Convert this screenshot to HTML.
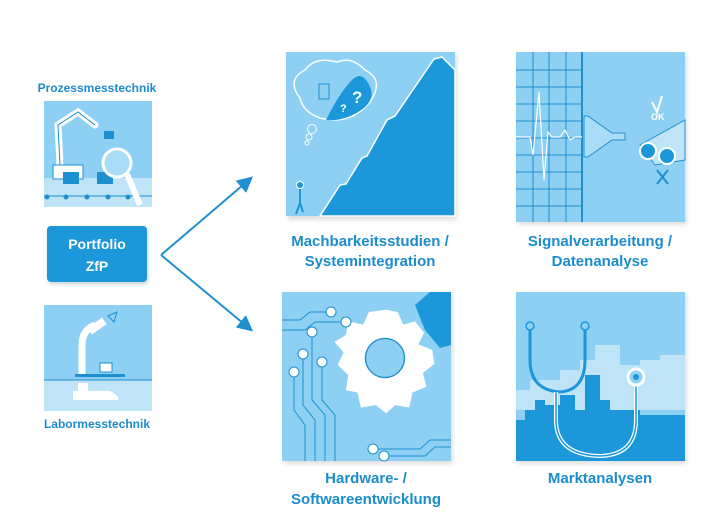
<!DOCTYPE html>
<html><head><meta charset="utf-8"><style>
html,body{margin:0;padding:0;background:#fff;width:713px;height:518px;overflow:hidden}
svg{display:block}
text{font-family:"Liberation Sans",Arial,sans-serif;font-weight:bold;fill:#1b8ccc}
</style></head><body>
<svg width="713" height="518" viewBox="0 0 713 518" xmlns="http://www.w3.org/2000/svg">
<defs>
<filter id="sh" x="-10%" y="-10%" width="120%" height="120%"><feGaussianBlur stdDeviation="2"/></filter>
<marker id="ah" markerWidth="8" markerHeight="8" refX="6" refY="4" orient="auto"><path d="M0,0 L8,4 L0,8 Z" fill="#1e8fcf"/></marker>
</defs>

<text x="97" y="92" font-size="12" text-anchor="middle">Prozessmesstechnik</text>
<text x="97" y="428" font-size="12" text-anchor="middle">Labormesstechnik</text>

<rect x="44" y="101" width="108" height="106" fill="#8dd0f4"/>
<rect x="44" y="178" width="108" height="29" fill="#bfe4f8"/>
<line x1="44" y1="196" x2="152" y2="196" stroke="#1e8fcf" stroke-width="1"/>
<g fill="#1e8fcf"><circle cx="47" cy="197" r="2.5"/><circle cx="66" cy="197" r="2.5"/><circle cx="87" cy="197" r="2.5"/><circle cx="108" cy="197" r="2.5"/><circle cx="128" cy="197" r="2.5"/></g>
<path d="M60,165 L58,125 L78,112 L95,125" fill="none" stroke="#fff" stroke-width="7" stroke-linecap="round"/>
<path d="M60,165 L58,125 L78,112 L95,125" fill="none" stroke="#1e8fcf" stroke-width="1"/>
<rect x="53" y="165" width="30" height="14" fill="#fff" stroke="#1e8fcf"/>
<rect x="63" y="172" width="16" height="12" fill="#1e8fcf"/>
<rect x="97" y="172" width="16" height="12" fill="#1e8fcf"/>
<rect x="104" y="131" width="10" height="8" fill="#1e8fcf"/>
<circle cx="117" cy="163" r="14" fill="#a9dcf7" stroke="#fff" stroke-width="3"/>
<line x1="127" y1="174" x2="140" y2="205" stroke="#fff" stroke-width="6"/>

<rect x="48" y="228" width="100" height="56" rx="4" fill="#2a4f6e" opacity="0.25" filter="url(#sh)"/>
<rect x="47" y="226" width="100" height="56" rx="4" fill="#1b97da"/>
<text x="97" y="249" font-size="14" text-anchor="middle" style="fill:#fff">Portfolio</text>
<text x="97" y="271" font-size="14" text-anchor="middle" style="fill:#fff">ZfP</text>

<rect x="44" y="305" width="108" height="106" fill="#8dd0f4"/>
<rect x="44" y="380" width="108" height="31" fill="#bfe4f8"/>
<line x1="44" y1="380" x2="152" y2="380" stroke="#1e8fcf"/>
<path d="M82,375 L82,345 Q82,330 95,325" fill="none" stroke="#fff" stroke-width="7"/>
<rect x="88" y="322" width="18" height="8" fill="#fff" transform="rotate(-35 97 326)"/>
<rect x="75" y="374" width="50" height="3" fill="#1e8fcf"/>
<rect x="78" y="383" width="10" height="8" fill="#fff"/>
<path d="M73,391 L110,391 Q120,396 118,400 L73,400 Z" fill="#fff"/>
<rect x="100" y="363" width="12" height="9" fill="#fff" stroke="#1e8fcf"/>
<path d="M108,316 L117,312 L114,322 Z" fill="none" stroke="#1e8fcf"/>

<line x1="161" y1="255" x2="250" y2="179" stroke="#1e8fcf" stroke-width="2" marker-end="url(#ah)"/>
<line x1="161" y1="255" x2="250" y2="329" stroke="#1e8fcf" stroke-width="2" marker-end="url(#ah)"/>

<g filter="url(#sh)" fill="#000" opacity="0.12">
<rect x="288" y="54" width="169" height="166"/><rect x="518" y="55" width="169" height="170"/>
<rect x="284" y="294" width="169" height="170"/><rect x="518" y="294" width="169" height="170"/>
</g>

<rect x="286" y="52" width="169" height="164" fill="#8dd0f4"/>
<path d="M320,216 L340,185 L346,184 L362,158 L367,156 L387,120 L395,116 L434,59 L442,57 L455,70 L455,216 Z" fill="#1b97da" stroke="#fff" stroke-width="1.5"/>
<path d="M300,98 Q286,80 305,70 Q315,56 337,62 Q352,56 365,70 Q385,80 370,102 Q350,126 320,118 Q303,112 300,98 Z" fill="#8dd0f4" stroke="#fff" stroke-width="1.5"/>
<path d="M326,120 Q340,92 352,80 Q360,72 366,80 Q378,96 364,108 Q345,122 326,120 Z" fill="#1b97da"/>
<text x="352" y="103" font-size="17" style="fill:#fff">?</text>
<text x="340" y="112" font-size="11" style="fill:#fff">?</text>
<rect x="319" y="84" width="10" height="15" fill="none" stroke="#1e8fcf"/>
<circle cx="312" cy="129" r="4.5" fill="none" stroke="#fff"/><circle cx="309" cy="137" r="3" fill="none" stroke="#fff"/><circle cx="307" cy="143" r="2" fill="none" stroke="#fff"/>
<circle cx="300" cy="185" r="3.5" fill="#1b97da" stroke="#fff"/>
<path d="M300,189 L300,203 L296,214 M300,203 L303,212" stroke="#1b97da" stroke-width="2" fill="none"/>

<rect x="516" y="52" width="169" height="170" fill="#8dd0f4"/>
<g stroke="#1e8fcf" stroke-width="1">
<line x1="533" y1="52" x2="533" y2="222"/><line x1="549" y1="52" x2="549" y2="222"/><line x1="566" y1="52" x2="566" y2="222"/>
<line x1="516" y1="70" x2="582" y2="70"/><line x1="516" y1="87" x2="582" y2="87"/><line x1="516" y1="104" x2="582" y2="104"/><line x1="516" y1="121" x2="582" y2="121"/><line x1="516" y1="138" x2="582" y2="138"/><line x1="516" y1="155" x2="582" y2="155"/><line x1="516" y1="172" x2="582" y2="172"/><line x1="516" y1="189" x2="582" y2="189"/><line x1="516" y1="206" x2="582" y2="206"/>
</g>
<line x1="582" y1="52" x2="582" y2="222" stroke="#1e8fcf" stroke-width="2"/>
<path d="M516,137 L530,137 L533,155 L539,92 L544,180 L548,132 L552,137 L560,137 L565,130 L570,140 L575,137 L582,137" fill="none" stroke="#fff" stroke-width="1.2"/>
<path d="M584,116 L588,116 L612,133 L625,133 L625,140 L612,140 L588,157 L584,157 Z" fill="#a9dcf7" stroke="#1e8fcf"/>
<path d="M640,145 L685,120 L685,160 L655,165 Z" fill="#bfe4f8" stroke="#1e8fcf"/>
<circle cx="648" cy="151" r="8" fill="#1b97da" stroke="#fff" stroke-width="2"/>
<circle cx="667" cy="156" r="8" fill="#1b97da" stroke="#fff" stroke-width="2"/>
<text x="651" y="120" font-size="9" style="fill:#fff">OK</text>
<path d="M652,102 L657,112 L662,96" stroke="#fff" stroke-width="2" fill="none"/>
<path d="M657,170 L668,184 M668,170 L657,184" stroke="#1e8fcf" stroke-width="2"/>

<rect x="282" y="292" width="169" height="169" fill="#8dd0f4"/>
<path d="M415,305 L430,292 L451,292 L451,345 L440,348 L425,330 Z" fill="#1b97da"/>
<g transform="translate(385 358) scale(1.15) translate(-374 -362)">
<path d="M375,320 L385,322 L390,333 L400,330 L408,340 L403,350 L415,355 L417,367 L407,375 L410,387 L398,392 L395,405 L383,403 L375,410 L366,403 L353,405 L350,392 L340,390 L342,377 L333,368 L338,357 L330,348 L340,342 L342,330 L355,333 L360,322 Z" fill="#fff"/>
<circle cx="374" cy="362" r="17" fill="#8dd0f4" stroke="#1e8fcf" stroke-width="1.2"/>
</g>
<g fill="none" stroke="#1e8fcf" stroke-width="1">
<path d="M294,375 L294,410 L305,425 L305,461"/><path d="M303,358 L303,405 L315,420 L315,461"/><path d="M312,335 L312,400 L325,415 L325,461"/><path d="M322,365 L322,400 L335,415 L335,461"/>
<path d="M282,320 L300,320 L310,312 L330,312"/><path d="M282,330 L305,330 L315,322 L345,322"/>
<path d="M375,449 L420,449 L430,440 L451,440"/><path d="M385,456 L425,456 L435,447 L451,447"/>
</g>
<g fill="#fff" stroke="#1e8fcf"><circle cx="294" cy="372" r="5"/><circle cx="303" cy="354" r="5"/><circle cx="312" cy="332" r="5"/><circle cx="322" cy="362" r="5"/><circle cx="331" cy="312" r="5"/><circle cx="346" cy="322" r="5"/><circle cx="373" cy="449" r="5"/><circle cx="384" cy="456" r="5"/></g>

<rect x="516" y="292" width="169" height="169" fill="#8dd0f4"/>
<path d="M516,390 L530,390 L530,380 L560,380 L560,370 L580,370 L580,360 L595,360 L595,345 L620,345 L620,365 L640,365 L640,360 L660,360 L660,355 L685,355 L685,410 L516,410 Z" fill="#bfe4f8"/>
<path d="M516,420 L525,420 L525,410 L535,410 L535,400 L545,400 L545,405 L560,405 L560,395 L575,395 L575,410 L585,410 L585,375 L600,375 L600,400 L610,400 L610,410 L640,410 L640,415 L685,415 L685,461 L516,461 Z" fill="#1b97da"/>
<path d="M530,330 L530,360 Q530,390 560,392 Q585,390 585,360 L585,330" fill="none" stroke="#1b97da" stroke-width="3"/>
<path d="M556,392 L556,420 Q556,455 600,456 Q636,455 636,420 L636,385" fill="none" stroke="#fff" stroke-width="4"/>
<path d="M556,392 L556,420 Q556,455 600,456 Q636,455 636,420 L636,385" fill="none" stroke="#1b97da" stroke-width="1.5"/>
<circle cx="636" cy="377" r="8" fill="#8dd0f4" stroke="#fff" stroke-width="3"/>
<circle cx="636" cy="377" r="3" fill="#1b97da"/>
<circle cx="530" cy="326" r="4" fill="#8dd0f4" stroke="#1b97da" stroke-width="1.5"/>
<circle cx="585" cy="326" r="4" fill="#8dd0f4" stroke="#1b97da" stroke-width="1.5"/>

<g font-size="15" text-anchor="middle">
<text x="370" y="246">Machbarkeitsstudien /</text>
<text x="370" y="266">Systemintegration</text>
<text x="600" y="246">Signalverarbeitung /</text>
<text x="600" y="266">Datenanalyse</text>
<text x="366" y="483">Hardware- /</text>
<text x="366" y="504">Softwareentwicklung</text>
<text x="600" y="483">Marktanalysen</text>
</g>
</svg>
</body></html>
